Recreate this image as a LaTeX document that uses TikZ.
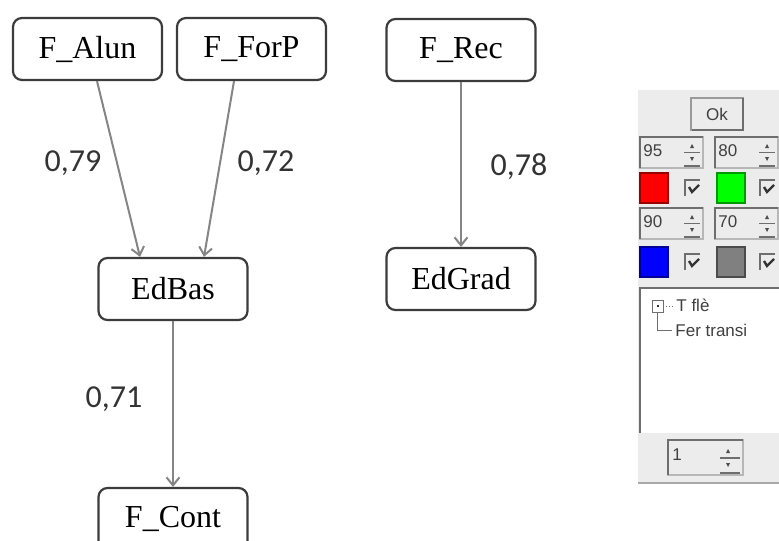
\documentclass[tikz,border=0pt]{standalone}
\usepackage{fontspec}
\setmainfont{Liberation Serif}
\newfontfamily\coeffont{Carlito}
\newfontfamily\guifont{Liberation Sans}
\usetikzlibrary{arrows.meta}
\definecolor{boxgray}{HTML}{3C3C3C}
\definecolor{arrowgray}{HTML}{858585}
\definecolor{panelgray}{HTML}{ECECEC}
\definecolor{edgegray}{HTML}{6E6E6E}
\tikzset{>=stealth}

\begin{document}
\begin{tikzpicture}[x=0.5pt, y=-0.5pt,
    var/.style={draw=boxgray, line width=1.1pt, rounded corners=4.5pt, fill=white,
      minimum width=74.5pt, minimum height=31pt, inner sep=0pt,
      font=\fontsize{16}{18}\selectfont},
    coef/.style={font=\coeffont\fontsize{16}{18}\selectfont, text=black!80},
    link/.style={draw=arrowgray, line width=1pt, -{Straight Barb[length=4pt,width=6.5pt]}},
    gui/.style={font=\guifont\fontsize{8.5}{9}\selectfont, text=black!75, inner sep=0pt}]
        \useasboundingbox (0,0) rectangle (779,540);
        \clip (0,0) rectangle (779,540);

        % Variables
        \node[var] (alun) at (87.5,49) {F\_Alun};
        \node[var] (forp) at (251.5,49) {F\_ForP};
        \node[var] (rec) at (461,50) {F\_Rec};
        \node[var] (edbas) at (173,289) {EdBas};
        \node[var] (edgrad) at (461,279) {EdGrad};
        \node[var] (cont) at (173,519) {F\_Cont};

        % Links
        \draw[link] ([xshift=4.75pt]alun.south) -- ([xshift=-16.5pt]edbas.north);
        \draw[link] ([xshift=-8.75pt]forp.south) -- ([xshift=15.5pt]edbas.north);
        \draw[link] (rec.south) -- (edgrad.north);
        \draw[link] (edbas.south) -- (cont.north);
        \node[coef] (w79) at (73,163) {0,79};
        \node[coef] (w72) at (266,163) {0,72};
        \node[coef] (w78) at (519,167) {0,78};
        \node[coef] (w71) at (114,399) {0,71};

        % Panel
        \fill[panelgray] (638,90) rectangle (779,483);
        \draw[edgegray!60, line width=0.8pt] (638,483) -- (779,483);
        \draw[edgegray!70, line width=0.6pt] (691,98) rectangle (743,130);
        \draw[edgegray, line width=0.8pt] (692,130) -- (743,130) -- (743,98);
        \node[gui] (ok) at (717,114) {Ok};
        \foreach \sx/\sy/\sv in {640/137/95, 715/137/80, 640/208/90, 715/208/70} {
          \draw[edgegray!50, line width=0.6pt] (\sx,\sy) rectangle ++(63,31);
          \draw[edgegray, line width=0.9pt] (\sx,\sy+31) -- (\sx,\sy) -- (\sx+63,\sy);
          \node[gui, anchor=west] at (\sx+3,\sy+14) {\sv};
          \draw[edgegray, line width=0.6pt] (\sx+44,\sy+15.5) -- (\sx+60,\sy+15.5);
          \draw[edgegray, line width=0.6pt] (\sx+44,\sy+29) -- (\sx+60,\sy+29);
          \fill[black!70] (\sx+50,\sy+11) -- (\sx+54,\sy+11) -- (\sx+52,\sy+7) -- cycle;
          \fill[black!70] (\sx+50,\sy+20) -- (\sx+54,\sy+20) -- (\sx+52,\sy+24) -- cycle;
        }
        \foreach \cx/\cy/\cc in {640/173/red, 717/173/green, 640/247/blue, 717/247/gray} {
          \fill[\cc] (\cx,\cy) rectangle ++(28,30);
          \draw[\cc!60!black, line width=0.6pt] (\cx,\cy) rectangle ++(28,30);
        }
        \foreach \kx/\ky in {685/180, 760/180, 685/254, 760/254} {
          \draw[edgegray, line width=0.9pt] (\kx,\ky+16) -- (\kx,\ky) -- (\kx+15,\ky);
          \draw[black!80, line width=1.2pt] (\kx+4,\ky+7) -- (\kx+7,\ky+12) -- (\kx+14,\ky+5);
        }

        % Tree
        \fill[white] (640,288) rectangle (779,433);
        \draw[edgegray, line width=1.1pt] (640,433) -- (640,288) -- (779,288);
        \draw[edgegray, line width=0.5pt] (652,300) rectangle (663,312);
        \fill[black!80] (656.5,305) rectangle (658.5,307);
        \draw[edgegray, line width=0.5pt, densely dotted] (663,306) -- (673,306);
        \draw[edgegray, line width=0.5pt] (657.5,312) -- (657.5,330) -- (672,330);
        \node[gui, anchor=west] (tfle) at (676,305) {T flè};
        \node[gui, anchor=west] (fer) at (675,330) {Fer transi};

        % Bottom spin
        \draw[edgegray!50, line width=0.6pt] (668,440) rectangle (743,475);
        \draw[edgegray, line width=0.9pt] (668,475) -- (668,440) -- (743,440);
        \node[gui, anchor=west] (one) at (672,455) {1};
        \draw[edgegray, line width=0.6pt] (720,458) -- (740,458);
        \draw[edgegray, line width=0.6pt] (720,473) -- (740,473);
        \fill[black!70] (726,453) -- (730,453) -- (728,449) -- cycle;
        \fill[black!70] (726,463) -- (730,463) -- (728,467) -- cycle;
\end{tikzpicture}
\end{document}
